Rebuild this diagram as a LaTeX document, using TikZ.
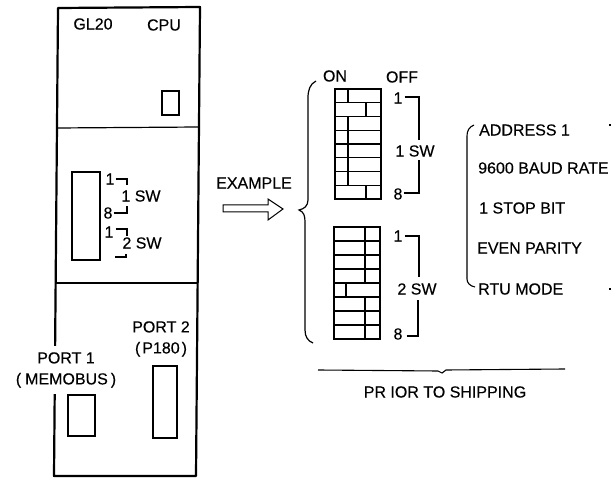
\documentclass[tikz,border=0pt]{standalone}
\usepackage{fontspec}
\setmainfont[FakeBold=0.3]{Liberation Sans}
\tikzset{
  lbl/.style={inner sep=0pt, font=\fontsize{16}{21}\selectfont},
  thin box/.style={line width=1.2pt},
  bracket/.style={line width=1.1pt},
}
\begin{document}
\begin{tikzpicture}[x=1pt,y=-1pt]
        \useasboundingbox (0,0) rectangle (611,478);
        % Panel
        \coordinate (tl) at (58,8);
        \coordinate (tr) at (200,7);
        \coordinate (br) at (196,476);
        \coordinate (bl) at (54,476);
        \draw[line width=2.2pt, line join=round] (tl) -- (tr) -- (br) -- (bl) -- cycle;
        \draw[thin box] (57,128) -- (199,127);
        \draw[thin box] (55,283) -- (197,283);
        % Panel texts
        \node[lbl] (gl) at (93,24) {GL20};
        \node[lbl] (cpu) at (164,25) {CPU};
        \node[lbl, align=center, fill=white, inner sep=6pt] (portone) at (66,370) {PORT 1\\(\hspace{4pt}MEMOBUS\hspace{3pt})};
        \node[lbl, align=center] (porttwo) at (161,339) {PORT 2\\(\hspace{2pt}P180\hspace{2pt})};
        % Panel windows
        \draw[thin box] (162,91) rectangle (179,115);
        \draw[thin box] (72,172) rectangle (100,260);
        \draw[thin box] (68,395) rectangle (95,436);
        \draw[thin box] (153,366) rectangle (177,438);
        % Small switch labels
        \node[lbl] (a) at (110,179) {1};
        \node[lbl] (b) at (108,213) {8};
        \node[lbl] (c) at (141,196) {1 SW};
        \node[lbl] (d) at (109,232) {1};
        \node[lbl] (e) at (142,243) {2 SW};
        \coordinate (af) at (127,185);
        \coordinate (bf) at (127,206);
        \coordinate (df) at (127,236);
        \coordinate (ef) at (126,254);
        \coordinate (eg) at (115,257);
        \draw[bracket] (a.east) ++(1,0) -| (af);
        \draw[bracket] (b.east) ++(1,0) -| (bf);
        \draw[bracket] (d.east) ++(2,-3) -| (df);
        \draw[bracket] (eg) -| (ef);
        % Example arrow
        \node[lbl] (ex) at (254,183) {EXAMPLE};
        \draw[line width=1pt, line join=miter] (223,205) -- (268,205) -- (268,199) -- (283,209)
            -- (268,220) -- (268,212) -- (223,212) -- cycle;
        % Big brace
        \draw[line width=1.2pt] (316,81) .. controls (310,84) and (308,90) .. (308,98) -- (308,200)
            .. controls (308,206) and (304,209) .. (299,210)
            .. controls (304,212) and (305,216) .. (305,222) -- (305,330)
            .. controls (305,337) and (308,341) .. (313,343);
        \node[lbl] (on) at (335,76) {ON};
        \node[lbl] (off) at (402,77) {OFF};
        % Switch 1
        \draw[line width=1.5pt] (335,89) rectangle (381,199);
        \foreach \r/\c in {0/348, 1/366, 2/348, 3/348, 4/348, 5/348, 6/348, 7/366} {
            \draw[thin box] (335,{89+\r*13.75}) -- (381,{89+\r*13.75});
            \draw[thin box] (\c,{89+\r*13.75}) -- (\c,{89+(\r+1)*13.75});
        }
        % Switch 2
        \draw[line width=1.5pt] (334,227) rectangle (380,339);
        \foreach \r/\c in {0/365, 1/365, 2/365, 3/365, 4/346, 5/365, 6/365, 7/365} {
            \draw[thin box] (334,{227+\r*14}) -- (380,{227+\r*14});
            \draw[thin box] (\c,{227+\r*14}) -- (\c,{227+(\r+1)*14});
        }
        % Switch labels
        \node[lbl] (f) at (398,98) {1};
        \node[lbl] (g) at (398,194) {8};
        \node[lbl] (h) at (415,151) {1 SW};
        \node[lbl] (i) at (398,236) {1};
        \node[lbl] (j) at (398,334) {8};
        \node[lbl] (k) at (417,289) {2 SW};
        \coordinate (ff) at (419,140);
        \coordinate (gf) at (419,160);
        \coordinate (if) at (419,277);
        \coordinate (jf) at (418,300);
        \draw[bracket] (f.east) ++(2,-1) -| (ff);
        \draw[bracket] (g.east) ++(1,-1) -| (gf);
        \draw[bracket] (i.east) ++(2,0) -| (if);
        \draw[bracket] (j.east) ++(4,2) -| (jf);
        % Settings
        \draw[line width=1.1pt] (474,125) .. controls (469,127) and (467,131) .. (467,136) -- (467,279)
            .. controls (467,283) and (470,286) .. (475,287);
        \node[lbl, anchor=west] (addr) at (479,130) {ADDRESS 1};
        \node[lbl, anchor=west] (baud) at (478,168) {9600 BAUD RATE};
        \node[lbl, anchor=west] (stop) at (479,208) {1 STOP BIT};
        \node[lbl, anchor=west] (par) at (477,248) {EVEN PARITY};
        \node[lbl, anchor=west] (mode) at (478,289) {RTU MODE};
        \draw[line width=1.1pt] (609,125) -- (611,125);
        \draw[line width=1.1pt] (609,289) -- (611,289);
        % Bottom brace
        \draw[line width=1.1pt] (318,370) -- (438,371) -- (442,373) -- (446,370) -- (565,369);
        \node[lbl] (ship) at (445,392) {PR IOR TO SHIPPING};
\end{tikzpicture}
\end{document}
